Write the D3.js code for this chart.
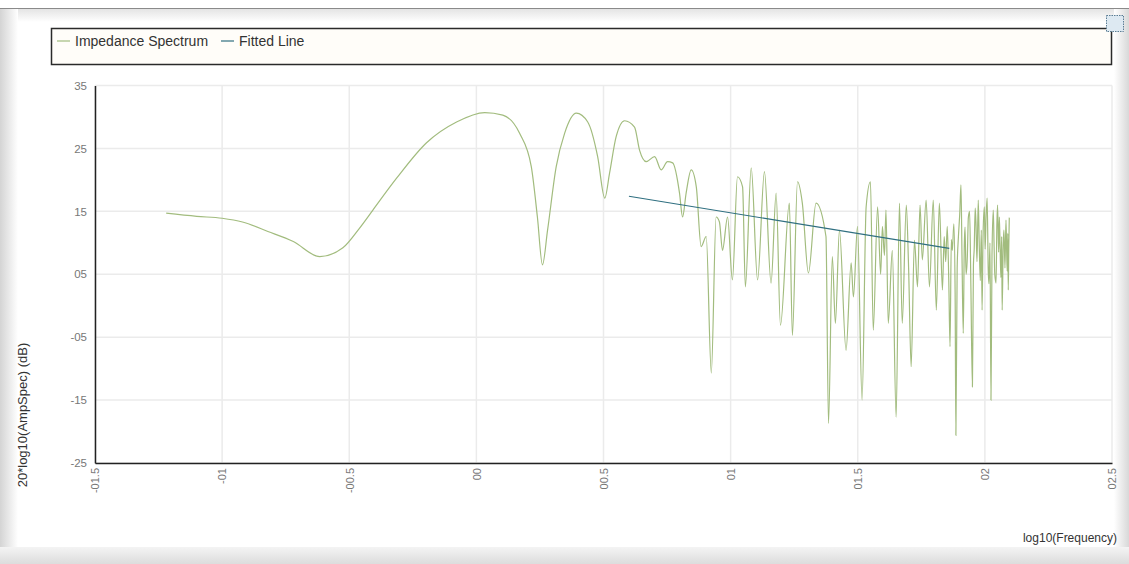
<!DOCTYPE html>
<html>
<head>
<meta charset="utf-8">
<script src="https://cdn.jsdelivr.net/npm/d3@7"></script>
<style>
  body { margin: 0; background: #fff; }
  svg { display: block; font-family: "Liberation Sans", Arial, sans-serif; }
</style>
</head>
<body>
<svg id="chartSvg" width="1129" height="564"></svg>
<script>
"use strict";

// impedance spectrum
let specX = [-0.122, -0.110, -0.100, -0.092, -0.082, -0.072, -0.0616, -0.0525, -0.0460, -0.0407,
  -0.0313, -0.0196, -0.0078, 0.0033, 0.0104, 0.017, 0.0216, 0.024, 0.026, 0.028,
  0.0314, 0.0347, 0.0393, 0.0438, 0.0477, 0.0505, 0.0524, 0.055, 0.0583, 0.0622,
  0.0642, 0.0668, 0.0701, 0.0727, 0.0752, 0.0772, 0.0799, 0.0811, 0.0825, 0.0845,
  0.0865, 0.0884, 0.0904, 0.0924, 0.0943, 0.0956, 0.0968, 0.0988, 0.1007, 0.1027,
  0.1047, 0.1058, 0.1081, 0.1106, 0.1133, 0.1159, 0.1179, 0.1196, 0.1231, 0.1243,
  0.1263, 0.1282, 0.1306, 0.1336, 0.1375, 0.1385, 0.1400, 0.1412, 0.1428, 0.1454,
  0.1474, 0.1483, 0.1499, 0.1517, 0.1533, 0.1550, 0.1561, 0.1578, 0.1590, 0.1597,
  0.1605, 0.1611, 0.1620, 0.1636, 0.1651, 0.1664, 0.1675, 0.1691, 0.1700, 0.1710,
  0.1723, 0.1735, 0.1745, 0.1754, 0.1769, 0.1782, 0.1797, 0.1809, 0.1821, 0.1833,
  0.1840, 0.1846, 0.1852, 0.1858, 0.1863, 0.1868, 0.1872, 0.1878, 0.1883, 0.1886,
  0.1891, 0.1896, 0.1901, 0.1906, 0.1910, 0.1915, 0.1919, 0.1922, 0.1926, 0.1931,
  0.1935, 0.1940, 0.1945, 0.1951, 0.1955, 0.1958, 0.1962, 0.1965, 0.1969, 0.1974,
  0.1978, 0.1982, 0.1986, 0.1989, 0.1993, 0.1998, 0.2001, 0.2005, 0.2009, 0.2013,
  0.2016, 0.2020, 0.2024, 0.2028, 0.2033, 0.2036, 0.2039, 0.2044, 0.2047, 0.2050,
  0.2054, 0.2057, 0.2060, 0.2063, 0.2066, 0.2068, 0.2072, 0.2075, 0.2079, 0.2083,
  0.2086, 0.2088, 0.2090, 0.2092, 0.2094, 0.2096];
let specY = [14.7, 14.2, 13.9, 13.3, 11.8, 10.2, 7.8, 9.2, 12.3, 15.2,
  20.3, 25.9, 29.2, 30.7, 30.3, 27.4, 22.1, 14.1, 6.5, 12.0,
  22.1, 27.4, 30.6, 29.2, 23.7, 17.1, 21.1, 26.9, 29.4, 28.4,
  24.7, 22.9, 23.7, 21.6, 22.9, 22.7, 17.9, 14.1, 17.9, 21.6,
  18.9, 9.4, 11.0, -10.7, 14.1, 13.3, 8.8, 14.1, 4.1, 20.5,
  18.9, 3.0, 21.9, 4.1, 21.3, 3.6, 17.9, -3.1, 16.3, -4.7,
  19.7, 16.3, 5.2, 16.3, 11.0, -18.7, 7.8, -2.8, 12.0, -7.1,
  6.8, 1.4, 12.6, -15.0, 15.7, 19.7, -3.9, 15.7, 5.0, 12.6,
  8.0, 15.2, -2.8, 8.8, -17.7, 16.3, -2.8, 16.0, 6.0, -9.7,
  10.4, 3.0, 16.0, 7.3, 16.8, 3.0, 16.8, -0.7, 16.3, 2.5,
  11.0, 7.0, 12.6, 4.0, -6.5, 10.5, 8.8, 13.0, 2.0, -20.6,
  6.0, 11.0, 14.5, 19.2, 8.0, -4.4, 9.5, 12.5, 5.0, 7.8,
  14.0, 15.0, 3.0, -12.9, 6.5, 9.0, 15.5, 13.1, 7.0, 16.8,
  9.5, 4.0, 12.0, -0.7, 11.5, 15.7, 9.0, 14.5, 17.1, 6.0,
  3.5, 10.0, -15.0, 8.0, 15.2, 10.0, 5.0, 3.6, 12.5, 16.0,
  8.5, 14.1, 9.0, 4.5, 11.0, -0.7, 9.5, 12.0, 6.0, 13.6,
  8.0, 5.5, 11.5, 2.5, 9.0, 14.0];

// fitted line end points
let fitX = [0.060, 0.186];
let fitY = [17.4, 9.1];

// axis ticks and the labels the original prints for them
let xTicks = [-0.15, -0.10, -0.05, 0.00, 0.05, 0.10, 0.15, 0.20, 0.25];
let xTickLabels = ["-01.5", "-01", "-00.5", "00", "00.5", "01", "01.5", "02", "02.5"];
let yTicks = [35, 25, 15, 5, -5, -15, -25];
let yTickLabels = ["35", "25", "15", "05", "-05", "-15", "-25"];

let seriesNames = ["Impedance Spectrum", "Fitted Line"];
let seriesColors = ["#a2bc7e", "#2f6f80"];

let plot = {left: 95, right: 1112, top: 85.5, bottom: 463};

let svg = d3.select("#chartSvg");

// frame around the chart
let defs = svg.append("defs");
let gl = defs.append("linearGradient").attr("id", "gLeft");
gl.append("stop").attr("offset", "0").attr("stop-color", "#d4d4d4");
gl.append("stop").attr("offset", "1").attr("stop-color", "#ffffff");
let gr = defs.append("linearGradient").attr("id", "gRight");
gr.append("stop").attr("offset", "0").attr("stop-color", "#ffffff");
gr.append("stop").attr("offset", "1").attr("stop-color", "#d8d8d8");
let gt = defs.append("linearGradient").attr("id", "gTop").attr("x2", 0).attr("y2", 1);
gt.append("stop").attr("offset", "0").attr("stop-color", "#e2e2e2");
gt.append("stop").attr("offset", "1").attr("stop-color", "#ffffff");
let gb = defs.append("linearGradient").attr("id", "gBot").attr("x2", 0).attr("y2", 1);
gb.append("stop").attr("offset", "0").attr("stop-color", "#f4f4f4");
gb.append("stop").attr("offset", "1").attr("stop-color", "#dcdcdc");

svg.append("rect").attr("width", 1129).attr("height", 564).attr("fill", "#fff");
svg.append("rect").attr("x", 0).attr("y", 8).attr("width", 1129).attr("height", 14).attr("fill", "url(#gTop)");
svg.append("rect").attr("x", 0).attr("y", 8).attr("width", 18).attr("height", 556).attr("fill", "url(#gLeft)");
svg.append("rect").attr("x", 1114).attr("y", 8).attr("width", 15).attr("height", 556).attr("fill", "url(#gRight)");
svg.append("rect").attr("x", 0).attr("y", 547).attr("width", 1129).attr("height", 17).attr("fill", "url(#gBot)");
svg.append("line").attr("x1", 0).attr("x2", 1129).attr("y1", 8.5).attr("y2", 8.5)
  .attr("stroke", "#8a8a8a").attr("stroke-width", 1);

// scales
let xScale = d3.scaleLinear().domain([-0.15, 0.25]).range([plot.left, plot.right]);
let yScale = d3.scaleLinear().domain([-25, 35]).range([plot.bottom, plot.top]);

// grid
let grid = svg.append("g").attr("stroke", "#ebebeb").attr("stroke-width", 1.5);
grid.selectAll("line.gx").data(xTicks).join("line")
  .attr("x1", d => xScale(d)).attr("x2", d => xScale(d))
  .attr("y1", plot.top).attr("y2", plot.bottom);
grid.selectAll("line.gy").data(yTicks).join("line")
  .attr("x1", plot.left).attr("x2", plot.right)
  .attr("y1", d => yScale(d)).attr("y2", d => yScale(d));

// axes
let xAxis = svg.append("g")
  .attr("transform", `translate(0,${plot.bottom})`)
  .call(d3.axisBottom(xScale).tickValues(xTicks).tickSize(0).tickPadding(4)
    .tickFormat((d, i) => xTickLabels[i]));
xAxis.select(".domain").attr("stroke", "#222").attr("stroke-width", 1.5);
xAxis.selectAll("text")
  .attr("transform", "rotate(-90)")
  .attr("text-anchor", "end")
  .attr("x", -5).attr("y", 0).attr("dy", "0.35em")
  .attr("fill", "#777").style("font-size", "11px");

let yAxis = svg.append("g")
  .attr("transform", `translate(${plot.left},0)`)
  .call(d3.axisLeft(yScale).tickValues(yTicks).tickSize(0).tickPadding(8)
    .tickFormat((d, i) => yTickLabels[i]));
yAxis.select(".domain").attr("stroke", "#222").attr("stroke-width", 1.5);
yAxis.selectAll("text").attr("fill", "#777").style("font-size", "11.5px");

// series
let specData = specX.map((x, i) => [x, specY[i]]);
let fitData = fitX.map((x, i) => [x, fitY[i]]);
let line = d3.line().x(d => xScale(d[0])).y(d => yScale(d[1]));
let smoothLine = d3.line().curve(d3.curveMonotoneX)
  .x(d => xScale(d[0])).y(d => yScale(d[1]));

svg.append("path").datum(specData)
  .attr("d", smoothLine).attr("fill", "none")
  .attr("stroke", seriesColors[0]).attr("stroke-width", 1.2);
svg.append("path").datum(fitData)
  .attr("d", line).attr("fill", "none")
  .attr("stroke", seriesColors[1]).attr("stroke-width", 1.2);

// axis titles
svg.append("text").attr("x", 1117).attr("y", 542).attr("text-anchor", "end")
  .attr("fill", "#333").style("font-size", "12px").text("log10(Frequency)");
svg.append("text").attr("transform", "translate(27,415) rotate(-90)")
  .attr("text-anchor", "middle").attr("fill", "#333").style("font-size", "13px")
  .text("20*log10(AmpSpec) (dB)");

// legend
svg.append("rect").attr("x", 51.5).attr("y", 28.5).attr("width", 1060).attr("height", 36)
  .attr("fill", "#fffdf9").attr("stroke", "#2a2a2a").attr("stroke-width", 1.5);
let legendX = [57, 221];
let leg = svg.selectAll("g.leg").data(seriesNames).join("g")
  .attr("transform", (d, i) => `translate(${legendX[i]},41)`);
leg.append("line").attr("x1", 0).attr("x2", 13).attr("y1", 0).attr("y2", 0)
  .attr("stroke", (d, i) => seriesColors[i]).attr("stroke-width", 1.2);
leg.append("text").attr("x", 18).attr("dy", "0.35em")
  .attr("fill", "#333").style("font-size", "14px").text(d => d);

// little icon top right
svg.append("rect").attr("x", 1106.5).attr("y", 15.5).attr("width", 17).attr("height", 16)
  .attr("fill", "#dde9f2").attr("stroke", "#5a7d95").attr("stroke-dasharray", "1.5,1");
</script>
</body>
</html>
